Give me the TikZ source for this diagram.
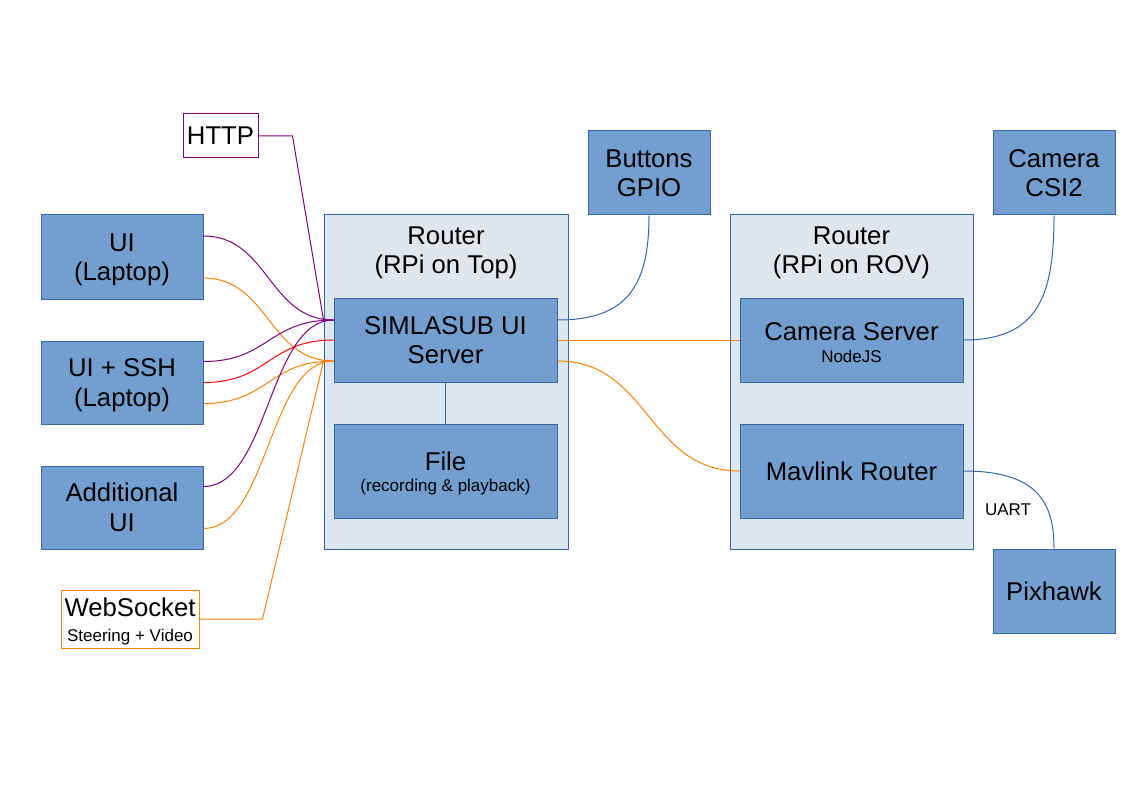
\documentclass[tikz,border=0pt]{standalone}
\usepackage{fontspec}
\setmainfont{Liberation Sans}
\usetikzlibrary{calc}
\definecolor{boxfill}{HTML}{729FCF}
\definecolor{boxline}{HTML}{3465A4}
\definecolor{panelfill}{HTML}{DEE6EF}
\definecolor{httpcol}{HTML}{800080}
\definecolor{wscol}{HTML}{FF8000}
\definecolor{sshcol}{HTML}{FF0000}
\newcommand\bigtxt{\fontsize{25.7}{29.5}\selectfont}
\newcommand\smalltxt{\fontsize{17}{20}\selectfont}
% invisible struts with the large font's ascent (and descent)
\newcommand\asc{\rule[-5.45pt]{0pt}{28.7pt}}
\newcommand\ascup{\rule{0pt}{23.25pt}}
\tikzset{
  panel/.style={draw=boxline, fill=panelfill, line width=1pt, inner sep=0pt},
  unit/.style={draw=boxline, fill=boxfill, line width=1pt, inner sep=0pt, align=center, font=\bigtxt},
  tag/.style={draw=#1, fill=white, line width=1pt, inner sep=0pt, align=center, font=\bigtxt},
  httpl/.style={draw=httpcol, line width=1pt},
  wsl/.style={draw=wscol, line width=1pt},
  sshl/.style={draw=sshcol, line width=1pt},
  lnk/.style={draw=boxline, line width=1pt},
}
\begin{document}
\begin{tikzpicture}[x=1pt, y=-1pt]
\useasboundingbox (0,0) rectangle (1123,794);

% host panels
\node[panel, minimum width=244, minimum height=334] (top) at (446,382) {};
\node[panel, minimum width=243, minimum height=334] (rov) at (851.5,382) {};
\node[font=\bigtxt, align=center] (toplbl) at (446,250) {\asc Router\\(RPi on Top)\asc};
\node[font=\bigtxt, align=center] (rovlbl) at (851.5,250) {\asc Router\\(RPi on ROV)\asc};

% services
\node[unit, minimum width=223, minimum height=84] (simla) at (445.5,340) {\asc SIMLASUB UI\\Server\asc};
\node[unit, minimum width=223, minimum height=94] (file) at (445.5,471) {\asc File\\[-8pt]{\smalltxt (recording \& playback)}};
\node[unit, minimum width=223, minimum height=84] (cam) at (851.5,340) {\ascup Camera Server\\[-8pt]{\smalltxt NodeJS}};
\node[unit, minimum width=223, minimum height=94] (mav) at (851.5,471) {Mavlink Router};

% clients
\node[unit, minimum width=162, minimum height=84] (ui) at (122,257) {\asc UI\\(Laptop)\asc};
\node[unit, minimum width=162, minimum height=83] (ssh) at (122,382.5) {\asc UI + SSH\\(Laptop)\asc};
\node[unit, minimum width=162, minimum height=83] (addui) at (122,507.5) {\asc Additional\\UI\asc};

% hardware
\node[unit, minimum width=122, minimum height=84] (buttons) at (649,173) {\asc Buttons\\GPIO\asc};
\node[unit, minimum width=122, minimum height=84] (csi) at (1054,173) {\asc Camera\\CSI2\asc};
\node[unit, minimum width=122, minimum height=84] (pix) at (1054,591) {Pixhawk};

% protocol tags
\node[tag=httpcol, minimum width=75, minimum height=44] (http) at (220.5,136) {HTTP};
\node[tag=wscol, minimum width=138, minimum height=58] (ws) at (130,619) {\asc WebSocket\\[-5pt]{\smalltxt Steering + Video}};

% client connections into the UI server
\draw[httpl] ([yshift=21pt]ui.east) .. controls +(65,0) and +(-65,0) .. ([yshift=20pt]simla.west);
\draw[wsl] ([yshift=-21pt]ui.east) .. controls +(65,0) and +(-65,0) .. ([yshift=-21pt]simla.west);
\draw[httpl] ([yshift=21pt]ssh.east) .. controls +(65,0) and +(-65,0) .. ([yshift=20pt]simla.west);
\draw[sshl] (ssh.east) .. controls +(65,0) and +(-65,0) .. (simla.west);
\draw[wsl] ([yshift=-21pt]ssh.east) .. controls +(65,0) and +(-65,0) .. ([yshift=-21pt]simla.west);
\draw[httpl] ([yshift=21pt]addui.east) .. controls +(65,0) and +(-65,0) .. ([yshift=20pt]simla.west);
\draw[wsl] ([yshift=-21pt]addui.east) .. controls +(65,0) and +(-65,0) .. ([yshift=-21pt]simla.west);

% protocol tag leaders
\draw[httpl] (http.east) -- ++(34,0) -- ([xshift=-10pt,yshift=20pt]simla.west) -- ([yshift=20pt]simla.west);
\draw[wsl] (ws.east) -- ++(63,0) -- ([xshift=-10pt,yshift=-21pt]simla.west) -- ([yshift=-21pt]simla.west);

% internal links
\draw[lnk] (simla.south) -- (file.north);
\draw[lnk] ([yshift=20pt]simla.east) .. controls +(70,0) and +(0,70) .. (buttons.south);
\draw[wsl] (simla.east) -- (cam.west);
\draw[wsl] ([yshift=-21pt]simla.east) .. controls +(92,0) and +(-92,0) .. (mav.west);
\draw[lnk] (cam.east) .. controls +(75,0) and +(0,80) .. (csi.south);
\draw[lnk] (mav.east) .. controls +(75,0) and +(0,-45) .. (pix.north);
\node[font=\smalltxt] (uart) at (1008,510) {UART};
\end{tikzpicture}
\end{document}
